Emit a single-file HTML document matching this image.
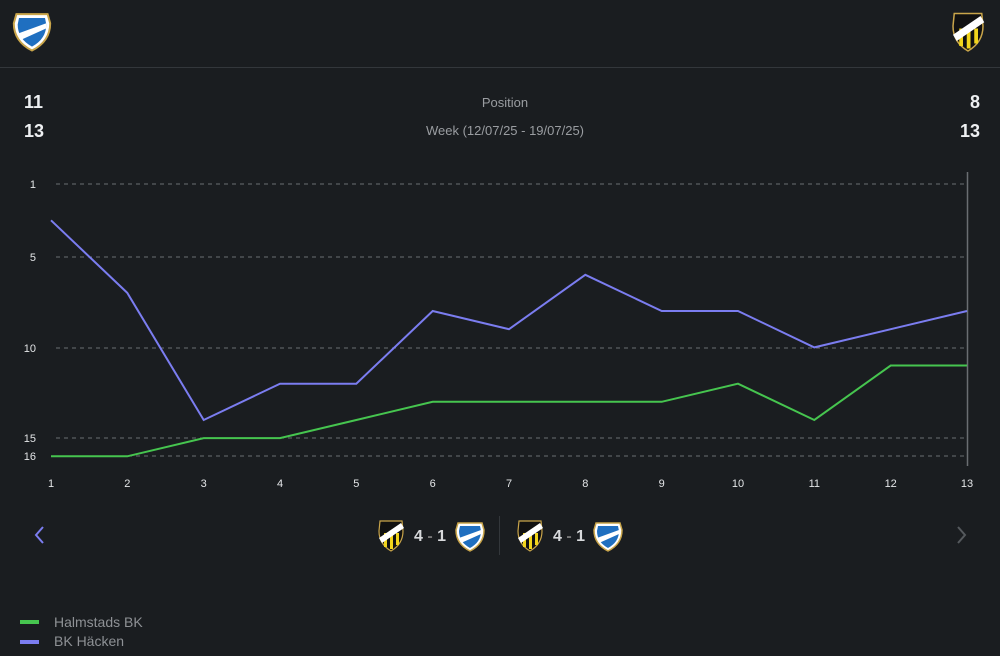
<!DOCTYPE html>
<html><head><meta charset="utf-8"><style>
html,body{margin:0;padding:0;background:#1a1d20;width:1000px;height:656px;overflow:hidden;font-family:"Liberation Sans",sans-serif}
</style></head><body>
<svg width="1000" height="656" xmlns="http://www.w3.org/2000/svg" style="position:absolute;left:0;top:0">
<defs>
<g id="hbk">
<path d="M-12,-13 L12,-13 L14,-6 Q14,8 0,15 Q-14,8 -14,-6 Z" fill="#fff" stroke="#c9a54a" stroke-width="1.5"/>
<path d="M-10,-10 L10,-10 L11,-5 Q11,6 0,12 Q-11,6 -11,-5 Z" fill="#1f6fc0"/>
<path d="M-11,2 L11,-6 L11,-2 L-9,7 Z" fill="#fff"/>
</g>
<g id="bkh">
<path d="M-11,-14 L11,-14 L12,-4 Q12,9 0,16 Q-12,9 -12,-4 Z" fill="#111" stroke="#c9a54a" stroke-width="1.2"/>
<rect x="-7" y="-2" width="3" height="14" fill="#f2d51c"/><rect x="-1" y="-2" width="3" height="16" fill="#f2d51c"/><rect x="5" y="-2" width="3" height="12" fill="#f2d51c"/>
<path d="M-12,3 L10,-12 L13,-7 L-9,8 Z" fill="#fff"/>
</g>
</defs>
<use href="#hbk" transform="translate(32,31) scale(1.3)"/>
<use href="#bkh" transform="translate(968,31) scale(1.25)"/>
<line x1="0" y1="67.5" x2="1000" y2="67.5" stroke="#33373b" stroke-width="1"/>
<text x="24" y="108" fill="#eef0f2" font-size="18" font-weight="bold">11</text>
<text x="24" y="137" fill="#eef0f2" font-size="18" font-weight="bold">13</text>
<text x="980" y="108" fill="#eef0f2" font-size="18" font-weight="bold" text-anchor="end">8</text>
<text x="980" y="137" fill="#eef0f2" font-size="18" font-weight="bold" text-anchor="end">13</text>
<text x="505" y="107" fill="#9a9da1" font-size="13" text-anchor="middle">Position</text>
<text x="505" y="135" fill="#9a9da1" font-size="13" text-anchor="middle">Week (12/07/25 - 19/07/25)</text>
<g stroke="#6a6e72" stroke-dasharray="4,4" stroke-width="1">
<line x1="56" y1="184" x2="967" y2="184"/><line x1="56" y1="257" x2="967" y2="257"/><line x1="56" y1="348" x2="967" y2="348"/><line x1="56" y1="438" x2="967" y2="438"/><line x1="56" y1="456" x2="967" y2="456"/>
</g>
<line x1="967.5" y1="172" x2="967.5" y2="466" stroke="#6a6e72" stroke-width="1.5"/>
<g fill="#e4e6e8" font-size="11" text-anchor="end">
<text x="36" y="188">1</text><text x="36" y="261">5</text><text x="36" y="352">10</text><text x="36" y="442">15</text><text x="36" y="460">16</text>
</g>
<g fill="#e4e6e8" font-size="11" text-anchor="middle">
<text x="51" y="487">1</text><text x="127.3" y="487">2</text><text x="203.7" y="487">3</text><text x="280" y="487">4</text><text x="356.3" y="487">5</text><text x="432.7" y="487">6</text><text x="509" y="487">7</text><text x="585.3" y="487">8</text><text x="661.7" y="487">9</text><text x="738" y="487">10</text><text x="814.3" y="487">11</text><text x="890.7" y="487">12</text><text x="967" y="487">13</text>
</g>
<polyline fill="none" stroke="#7b7df0" stroke-width="2" points="51,220.3 127.3,292.9 203.7,420 280,383.7 356.3,383.7 432.7,311 509,329.2 585.3,274.8 661.7,311 738,311 814.3,347.4 890.7,329.2 967,311"/>
<polyline fill="none" stroke="#46c54f" stroke-width="2" points="51,456.3 127.3,456.3 203.7,438.1 280,438.1 356.3,420 432.7,401.8 509,401.8 585.3,401.8 661.7,401.8 738,383.7 814.3,420 890.7,365.5 967,365.5"/>
<path d="M43,527 L36,535 L43,543" fill="none" stroke="#7b7df0" stroke-width="2"/>
<path d="M958,527 L965,535 L958,543" fill="none" stroke="#55595d" stroke-width="2"/>
<use href="#bkh" x="391" y="535"/>
<text x="430" y="541" fill="#d8dadc" font-size="16" font-weight="bold" text-anchor="middle">4<tspan fill="#777"> - </tspan>1</text>
<use href="#hbk" x="470" y="536"/>
<line x1="499.5" y1="516" x2="499.5" y2="555" stroke="#33373b"/>
<use href="#bkh" x="530" y="535"/>
<text x="569" y="541" fill="#d8dadc" font-size="16" font-weight="bold" text-anchor="middle">4<tspan fill="#777"> - </tspan>1</text>
<use href="#hbk" x="608" y="536"/>
<rect x="20" y="620" width="19" height="4" fill="#46c54f"/>
<rect x="20" y="640" width="19" height="4" fill="#7b7df0"/>
<text x="54" y="627" fill="#8e9195" font-size="14">Halmstads BK</text>
<text x="54" y="646" fill="#8e9195" font-size="14">BK Häcken</text>
</svg>
</body></html>
